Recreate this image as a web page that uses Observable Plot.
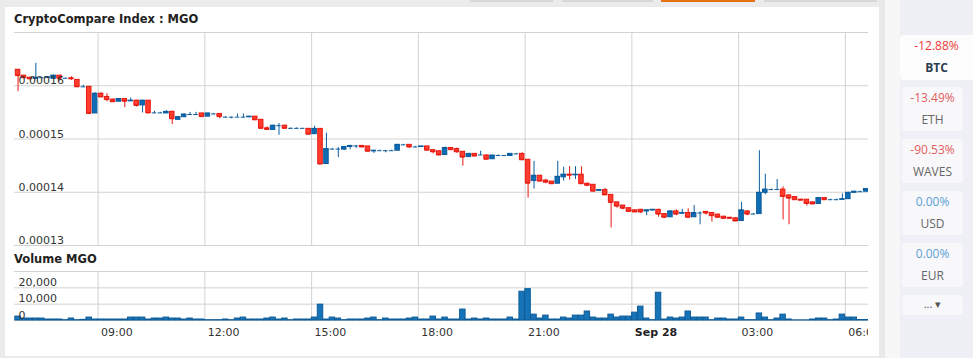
<!DOCTYPE html>
<html><head><meta charset="utf-8">
<script src="https://cdn.jsdelivr.net/npm/d3@7"></script>
<script src="https://cdn.jsdelivr.net/npm/@observablehq/plot@0.6"></script>
<style>
html,body{margin:0;padding:0;}
body{width:973px;height:358px;background:#ebebeb;position:relative;overflow:hidden;font-family:"DejaVu Sans",sans-serif;}
.abs{position:absolute;}
#panel{left:5px;top:7px;width:874px;height:349px;background:#fff;}
.ttl{position:absolute;font:bold 11.5px/14px "DejaVu Sans",sans-serif;color:#222;white-space:nowrap;}
.tab{position:absolute;top:0;height:2px;background:#d8d8d8;}
#sideA{left:879px;top:0;width:6px;height:358px;background:#e9e9e9;}
#sideB{left:885px;top:0;width:15px;height:358px;background:#f7f7f7;}
#sideC{left:900px;top:0;width:73px;height:358px;background:#efeff6;}
.card{position:absolute;left:902px;width:61px;background:#f8f8fa;border-radius:4px;font-family:"Open Sans",sans-serif;text-align:center;}
.card .p{position:absolute;left:0;right:0;top:3px;font-size:12px;line-height:16px;}
.card .n{position:absolute;left:0;right:0;top:25px;font-size:12px;line-height:16px;color:#666;}
#chartP,#chartV{position:absolute;left:0;}
#chartP{top:0;}
#chartV{top:260px;}
</style></head><body>
<div class="tab" style="left:470px;width:83px"></div>
<div class="tab" style="left:562px;width:91px"></div>
<div class="tab" style="left:661px;width:94px;background:#e2720e"></div>
<div class="tab" style="left:764px;width:113px"></div>
<div id="panel" class="abs"></div>
<div id="sideA" class="abs"></div>
<div id="sideB" class="abs"></div>
<div id="sideC" class="abs"></div>
<div class="card" style="left:900px;width:73px;top:35px;height:45px;background:#fdfdfe;border-radius:4px 0 0 4px">
  <div class="p" style="color:#ee3b34">-12.88%</div><div class="n" style="color:#2c3e50;font-weight:bold">BTC</div></div>
<div class="card" style="top:87px;height:44px"><div class="p" style="color:#e35d5d">-13.49%</div><div class="n">ETH</div></div>
<div class="card" style="top:139px;height:44px"><div class="p" style="color:#e35d5d">-90.53%</div><div class="n">WAVES</div></div>
<div class="card" style="top:191px;height:44px"><div class="p" style="color:#5b9fd6">0.00%</div><div class="n">USD</div></div>
<div class="card" style="top:243px;height:44px"><div class="p" style="color:#5b9fd6">0.00%</div><div class="n">EUR</div></div>
<div class="card" style="top:295px;height:20px"><div class="p" style="top:1px;color:#555;font-size:11px">... &#9662;</div></div>
<div class="ttl" style="left:14px;top:12px">CryptoCompare Index : MGO</div>
<div class="ttl" style="left:14px;top:252px">Volume MGO</div>
<div id="chartP"></div>
<div id="chartV"></div>
<script>
// ---- data (10-minute candles, MGO price in BTC-index units) ----
const firstCandle = "2018-09-27T06:45:00Z";
const candleMinutes = 10;
const xStart = "2018-09-27T06:39:00Z";
const xEnd = "2018-09-28T06:39:00Z";

const open = [
16.30e-5,16.19e-5,16.15e-5,16.13e-5,16.15e-5,16.15e-5,16.13e-5,16.19e-5,16.14e-5,16.14e-5,16.11e-5,15.98e-5,
15.98e-5,15.48e-5,15.85e-5,15.79e-5,15.74e-5,15.70e-5,15.75e-5,15.71e-5,15.72e-5,15.63e-5,15.72e-5,15.49e-5,
15.49e-5,15.48e-5,15.51e-5,15.36e-5,15.41e-5,15.46e-5,15.46e-5,15.48e-5,15.42e-5,15.47e-5,15.47e-5,15.41e-5,
15.41e-5,15.41e-5,15.41e-5,15.41e-5,15.42e-5,15.36e-5,15.20e-5,15.17e-5,15.25e-5,15.25e-5,15.20e-5,15.20e-5,
15.20e-5,15.19e-5,15.09e-5,15.19e-5,14.53e-5,14.81e-5,14.81e-5,14.80e-5,14.85e-5,14.87e-5,14.87e-5,14.86e-5,
14.77e-5,14.78e-5,14.78e-5,14.78e-5,14.78e-5,14.89e-5,14.89e-5,14.85e-5,14.85e-5,14.86e-5,14.79e-5,14.77e-5,
14.70e-5,14.83e-5,14.81e-5,14.76e-5,14.66e-5,14.72e-5,14.70e-5,14.69e-5,14.62e-5,14.69e-5,14.69e-5,14.68e-5,
14.72e-5,14.72e-5,14.61e-5,14.21e-5,14.31e-5,14.22e-5,14.20e-5,14.16e-5,14.28e-5,14.33e-5,14.32e-5,14.33e-5,
14.16e-5,14.14e-5,14.03e-5,14.04e-5,13.95e-5,13.81e-5,13.75e-5,13.70e-5,13.66e-5,13.67e-5,13.64e-5,13.66e-5,
13.67e-5,13.59e-5,13.53e-5,13.64e-5,13.60e-5,13.61e-5,13.53e-5,13.61e-5,13.63e-5,13.61e-5,13.58e-5,13.54e-5,
13.52e-5,13.51e-5,13.46e-5,13.64e-5,13.59e-5,13.59e-5,13.99e-5,14.05e-5,14.05e-5,14.05e-5,13.94e-5,13.91e-5,
13.86e-5,13.86e-5,13.81e-5,13.78e-5,13.89e-5,13.86e-5,13.86e-5,13.86e-5,13.87e-5,13.99e-5,14.01e-5,14.01e-5];

const high = [
16.30e-5,16.19e-5,16.16e-5,16.42e-5,16.16e-5,16.17e-5,16.20e-5,16.19e-5,16.15e-5,16.17e-5,16.11e-5,16.01e-5,
15.98e-5,15.87e-5,15.87e-5,15.85e-5,15.75e-5,15.76e-5,15.76e-5,15.77e-5,15.73e-5,15.73e-5,15.72e-5,15.52e-5,
15.50e-5,15.53e-5,15.52e-5,15.42e-5,15.47e-5,15.50e-5,15.50e-5,15.48e-5,15.48e-5,15.48e-5,15.48e-5,15.42e-5,
15.41e-5,15.47e-5,15.47e-5,15.42e-5,15.42e-5,15.36e-5,15.23e-5,15.26e-5,15.29e-5,15.26e-5,15.21e-5,15.21e-5,
15.20e-5,15.20e-5,15.24e-5,15.19e-5,15.11e-5,14.82e-5,14.84e-5,14.86e-5,14.88e-5,14.88e-5,14.87e-5,14.86e-5,
14.79e-5,14.79e-5,14.78e-5,14.79e-5,14.90e-5,14.90e-5,14.89e-5,14.86e-5,14.86e-5,14.86e-5,14.79e-5,14.77e-5,
14.85e-5,14.84e-5,14.83e-5,14.76e-5,14.73e-5,14.73e-5,14.77e-5,14.70e-5,14.69e-5,14.70e-5,14.69e-5,14.73e-5,
14.73e-5,14.74e-5,14.61e-5,14.58e-5,14.31e-5,14.24e-5,14.20e-5,14.58e-5,14.47e-5,14.48e-5,14.48e-5,14.48e-5,
14.17e-5,14.14e-5,14.04e-5,14.07e-5,13.95e-5,13.81e-5,13.75e-5,13.70e-5,13.67e-5,13.68e-5,13.67e-5,13.68e-5,
13.68e-5,13.60e-5,13.65e-5,13.67e-5,13.68e-5,13.69e-5,13.75e-5,13.63e-5,13.64e-5,13.62e-5,13.59e-5,13.55e-5,
13.53e-5,13.52e-5,13.81e-5,13.65e-5,13.60e-5,14.78e-5,14.34e-5,14.06e-5,14.24e-5,14.10e-5,13.95e-5,13.92e-5,
13.87e-5,13.86e-5,13.82e-5,13.90e-5,13.90e-5,13.87e-5,13.87e-5,13.97e-5,14.00e-5,14.02e-5,14.02e-5,14.07e-5];

const low = [
15.89e-5,16.14e-5,16.12e-5,16.12e-5,16.14e-5,16.14e-5,16.13e-5,16.12e-5,16.14e-5,16.10e-5,15.98e-5,15.97e-5,
15.48e-5,15.48e-5,15.79e-5,15.70e-5,15.70e-5,15.70e-5,15.59e-5,15.70e-5,15.60e-5,15.49e-5,15.49e-5,15.48e-5,
15.48e-5,15.48e-5,15.27e-5,15.35e-5,15.40e-5,15.45e-5,15.45e-5,15.42e-5,15.42e-5,15.46e-5,15.38e-5,15.40e-5,
15.38e-5,15.41e-5,15.40e-5,15.40e-5,15.35e-5,15.19e-5,15.17e-5,15.17e-5,15.07e-5,15.19e-5,15.19e-5,15.19e-5,
15.19e-5,15.09e-5,15.09e-5,14.53e-5,14.53e-5,14.80e-5,14.65e-5,14.79e-5,14.80e-5,14.82e-5,14.85e-5,14.77e-5,
14.73e-5,14.77e-5,14.74e-5,14.77e-5,14.78e-5,14.88e-5,14.83e-5,14.84e-5,14.84e-5,14.79e-5,14.72e-5,14.70e-5,
14.70e-5,14.78e-5,14.73e-5,14.49e-5,14.66e-5,14.68e-5,14.69e-5,14.62e-5,14.62e-5,14.68e-5,14.68e-5,14.68e-5,
14.71e-5,14.61e-5,13.89e-5,14.06e-5,14.20e-5,14.16e-5,14.16e-5,14.16e-5,14.21e-5,14.23e-5,14.24e-5,14.16e-5,
14.13e-5,14.02e-5,14.02e-5,13.95e-5,13.33e-5,13.70e-5,13.67e-5,13.63e-5,13.62e-5,13.60e-5,13.56e-5,13.65e-5,
13.53e-5,13.52e-5,13.53e-5,13.56e-5,13.59e-5,13.53e-5,13.53e-5,13.39e-5,13.57e-5,13.44e-5,13.52e-5,13.50e-5,
13.50e-5,13.45e-5,13.46e-5,13.56e-5,13.58e-5,13.59e-5,13.95e-5,14.04e-5,14.04e-5,13.48e-5,13.39e-5,13.86e-5,
13.85e-5,13.74e-5,13.77e-5,13.78e-5,13.86e-5,13.85e-5,13.85e-5,13.86e-5,13.87e-5,13.98e-5,14.00e-5,14.01e-5];

const close = [
16.19e-5,16.15e-5,16.13e-5,16.15e-5,16.15e-5,16.16e-5,16.19e-5,16.14e-5,16.14e-5,16.13e-5,15.98e-5,15.98e-5,
15.48e-5,15.85e-5,15.79e-5,15.74e-5,15.70e-5,15.75e-5,15.71e-5,15.72e-5,15.63e-5,15.72e-5,15.49e-5,15.49e-5,
15.49e-5,15.51e-5,15.38e-5,15.41e-5,15.46e-5,15.46e-5,15.46e-5,15.42e-5,15.48e-5,15.47e-5,15.42e-5,15.41e-5,
15.41e-5,15.41e-5,15.41e-5,15.42e-5,15.36e-5,15.20e-5,15.18e-5,15.25e-5,15.25e-5,15.20e-5,15.20e-5,15.20e-5,
15.20e-5,15.09e-5,15.19e-5,14.53e-5,14.81e-5,14.81e-5,14.81e-5,14.85e-5,14.87e-5,14.87e-5,14.85e-5,14.77e-5,
14.78e-5,14.78e-5,14.78e-5,14.78e-5,14.89e-5,14.89e-5,14.85e-5,14.85e-5,14.86e-5,14.79e-5,14.76e-5,14.70e-5,
14.83e-5,14.80e-5,14.76e-5,14.66e-5,14.72e-5,14.68e-5,14.70e-5,14.62e-5,14.69e-5,14.69e-5,14.69e-5,14.72e-5,
14.72e-5,14.61e-5,14.17e-5,14.31e-5,14.21e-5,14.19e-5,14.16e-5,14.29e-5,14.33e-5,14.32e-5,14.33e-5,14.16e-5,
14.13e-5,14.02e-5,14.04e-5,13.95e-5,13.81e-5,13.74e-5,13.70e-5,13.64e-5,13.63e-5,13.63e-5,13.66e-5,13.67e-5,
13.59e-5,13.53e-5,13.64e-5,13.59e-5,13.61e-5,13.53e-5,13.61e-5,13.61e-5,13.61e-5,13.56e-5,13.53e-5,13.51e-5,
13.51e-5,13.46e-5,13.66e-5,13.59e-5,13.59e-5,13.99e-5,14.05e-5,14.05e-5,14.05e-5,13.92e-5,13.89e-5,13.86e-5,
13.85e-5,13.79e-5,13.78e-5,13.89e-5,13.86e-5,13.86e-5,13.86e-5,13.87e-5,13.99e-5,14.01e-5,14.01e-5,14.06e-5];

const volume = [
2400,1200,1200,1200,1200,600,600,600,200,1200,200,400,
1800,600,600,600,600,600,600,1800,1800,1800,600,1200,
1200,1800,1200,1200,600,1200,600,600,200,200,200,600,
200,1200,1800,600,600,600,1200,1800,600,1200,200,600,
600,600,1800,9700,600,1800,1200,200,600,600,600,1200,
1800,200,1200,600,600,600,1200,1800,600,600,2400,600,
1800,600,600,6700,600,1200,600,1200,600,600,600,1800,
600,17600,19200,3600,1200,3000,600,600,1800,1200,3000,3000,
5500,1800,1200,1200,3600,1800,2400,2400,4800,8500,1200,200,
17000,600,1800,1200,1800,5500,1800,1800,1800,200,1200,1200,
600,600,1800,200,200,4300,1800,200,1200,3600,600,100,
100,100,600,1200,1200,200,600,3600,1800,1800,300,300];

const priceTicks = [13e-5, 14e-5, 15e-5, 16e-5];
const priceTickLabels = ["0.00013", "0.00014", "0.00015", "0.00016"];
const priceMax = 17e-5;
const volumeTicks = [0, 10000, 20000];
const volumeTickLabels = ["0", "10,000", "20,000"];
const volumeMax = 30000;
const hourTicks = ["2018-09-27T09:00:00Z","2018-09-27T12:00:00Z","2018-09-27T15:00:00Z","2018-09-27T18:00:00Z",
                   "2018-09-27T21:00:00Z","2018-09-28T03:00:00Z","2018-09-28T06:00:00Z"];
const hourTickLabels = ["09:00","12:00","15:00","18:00","21:00","03:00","06:00"];
const dayTicks = ["2018-09-28T00:00:00Z"];
const dayTickLabels = ["Sep 28"];

// ---- build ----
const t0 = new Date(firstCandle).getTime();
const step = candleMinutes * 60000;
const candles = open.map((o, i) => ({
  t: new Date(t0 + i * step), open: o, high: high[i], low: low[i], close: close[i], vol: volume[i]
}));
const isUp = d => d.close >= d.open;
const UP_FILL = "#0f6db4", UP_LINE = "#0b5c9e", DN_FILL = "#ff3d2e", DN_LINE = "#e8170f";
const bodyHalf = 3.8 * 60000, barHalf = 4.6 * 60000;
const hourDates = hourTicks.map(s => new Date(s));
const dayDates = dayTicks.map(s => new Date(s));
const allTickDates = [...hourDates, ...dayDates];
const GRID = "#d2d2d2";
const font = {fontFamily: "'DejaVu Sans', sans-serif", fontSize: "11px", background: "transparent", color: "#333"};

const priceChart = Plot.plot({
  width: 868, height: 250,
  marginLeft: 14, marginRight: 0, marginTop: 32, marginBottom: 5,
  style: font,
  x: {type: "utc", domain: [new Date(xStart), new Date(xEnd)], axis: null},
  y: {domain: [priceTicks[0], priceMax], axis: null},
  color: {type: "identity"},
  marks: [
    Plot.gridX(allTickDates, {stroke: GRID, strokeOpacity: 1}),
    Plot.gridY([...priceTicks, priceMax], {stroke: GRID, strokeOpacity: 1}),
    Plot.ruleX(candles, {x: "t", y1: "low", y2: "high", stroke: d => isUp(d) ? UP_LINE : DN_LINE, strokeWidth: 1}),
    Plot.rect(candles, {x1: d => new Date(+d.t - bodyHalf), x2: d => new Date(+d.t + bodyHalf),
      y1: "open", y2: "close", fill: d => isUp(d) ? UP_FILL : DN_FILL, stroke: d => isUp(d) ? UP_LINE : DN_LINE, strokeWidth: 1}),
    Plot.ruleY(candles, {x1: d => new Date(+d.t - bodyHalf), x2: d => new Date(+d.t + bodyHalf),
      y: "close", stroke: d => isUp(d) ? UP_LINE : DN_LINE, strokeWidth: 1}),
    Plot.text(priceTicks, {y: d => d, text: (d, i) => priceTickLabels[i], frameAnchor: "left",
      textAnchor: "start", dx: 4, dy: -5, fill: "#333", fontSize: 11})
  ]
});
document.getElementById("chartP").appendChild(priceChart);

const volChart = Plot.plot({
  width: 868, height: 98,
  marginLeft: 14, marginRight: 0, marginTop: 11, marginBottom: 38,
  style: font,
  x: {type: "utc", domain: [new Date(xStart), new Date(xEnd)], axis: null},
  y: {domain: [0, volumeMax], axis: null},
  marks: [
    Plot.gridX(allTickDates, {stroke: GRID, strokeOpacity: 1}),
    Plot.gridY([...volumeTicks, volumeMax], {stroke: GRID, strokeOpacity: 1}),
    Plot.rect(candles, {x1: d => new Date(+d.t - barHalf), x2: d => new Date(+d.t + barHalf),
      y1: 0, y2: "vol", fill: "#1673b8", stroke: "#0d5b98", strokeWidth: 1}),
    Plot.text(volumeTicks, {y: d => d, text: (d, i) => volumeTickLabels[i], frameAnchor: "left",
      textAnchor: "start", dx: 4, dy: -5.5, fill: "#333", fontSize: 11}),
    Plot.text(hourDates, {x: d => d, text: (d, i) => hourTickLabels[i], frameAnchor: "bottom",
      textAnchor: "start", dx: 3, dy: 15.5, fill: "#333", fontSize: 11}),
    Plot.text(dayDates, {x: d => d, text: (d, i) => dayTickLabels[i], frameAnchor: "bottom",
      textAnchor: "start", dx: 3, dy: 15.5, fill: "#222", fontSize: 11, fontWeight: "bold"})
  ]
});
document.getElementById("chartV").appendChild(volChart);
</script>
</body></html>
